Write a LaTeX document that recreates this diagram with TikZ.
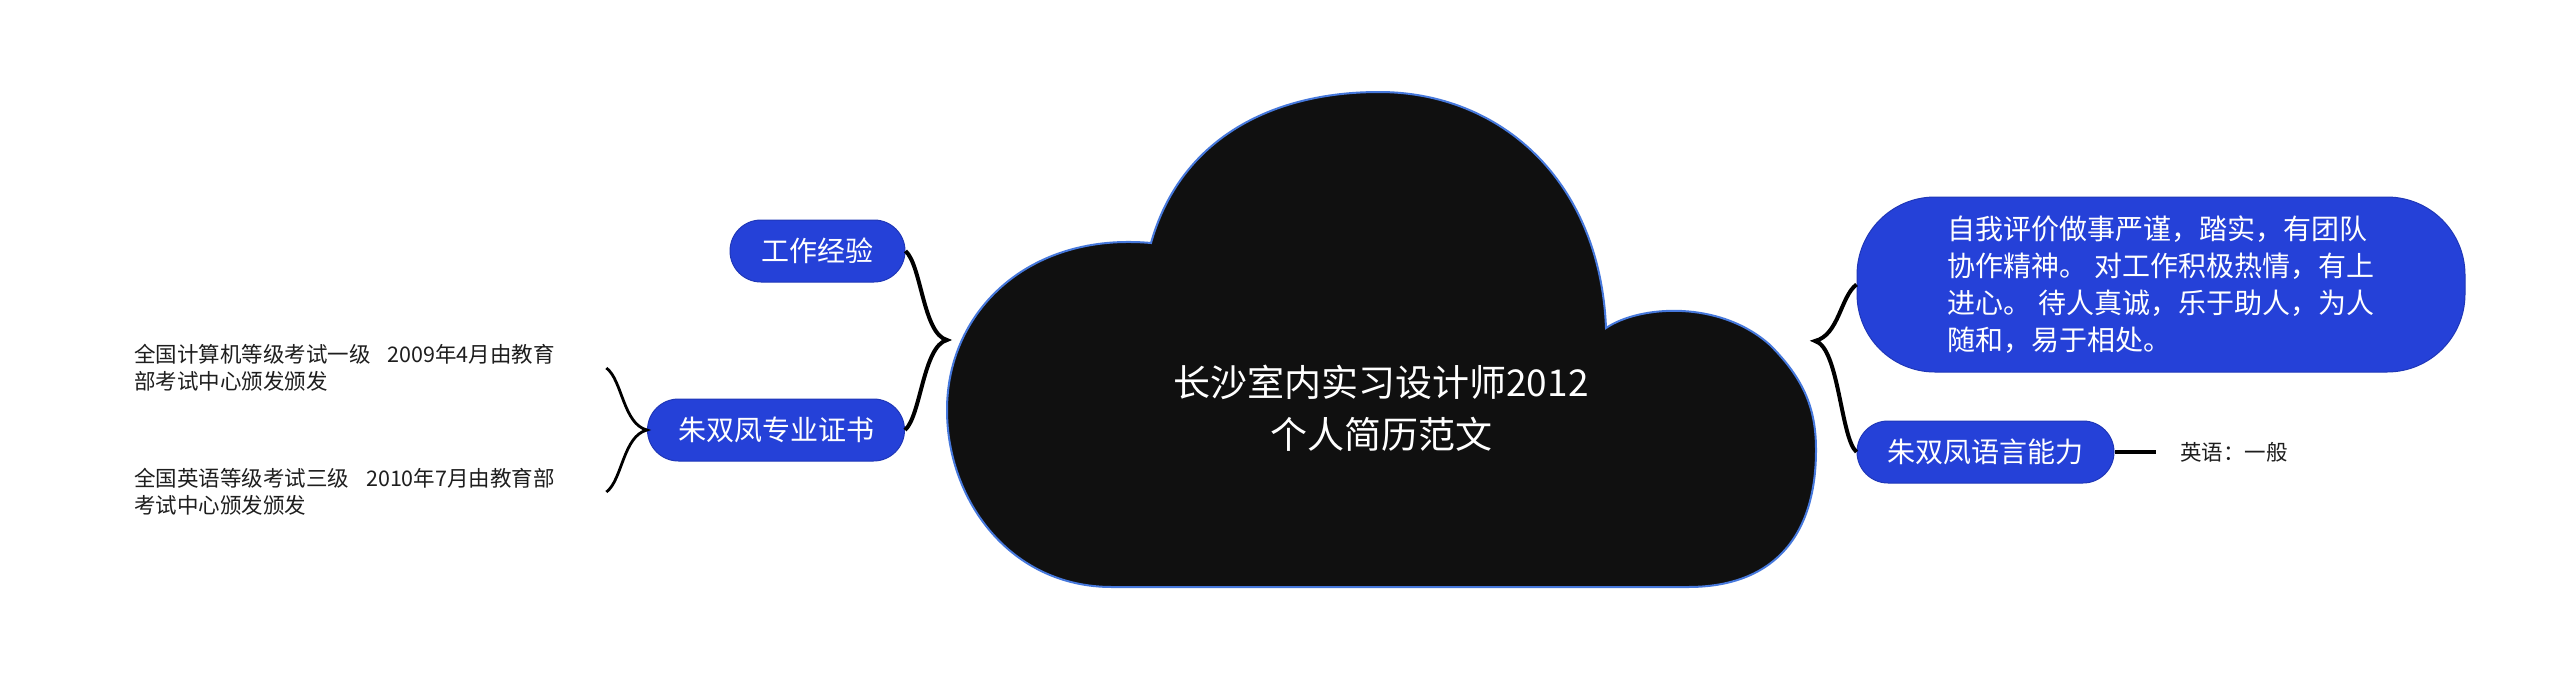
\documentclass[tikz,border=0pt]{standalone}
\usepackage{fontspec}
\newfontfamily\cjk{Noto Sans CJK SC}
\usetikzlibrary{calc}
\definecolor{nodeblue}{RGB}{37,65,216}
\definecolor{cloudfill}{RGB}{16,16,16}
\definecolor{cloudline}{RGB}{70,120,220}
\definecolor{leaftext}{RGB}{30,30,30}
\begin{document}
\begin{tikzpicture}[x=1pt,y=-1pt,
  topic/.style={draw=nodeblue!85!black, line width=1pt, fill=nodeblue, text=white,
    font=\cjk\fontsize{28}{37}\selectfont, rounded corners=31pt,
    minimum height=62pt, inner xsep=0pt, inner ysep=0pt, align=center},
  leaf/.style={font=\cjk\fontsize{21.5}{27}\selectfont, text=leaftext, align=left, inner ysep=0pt},
  bracel/.style={draw=black, line width=4pt},
  bracem/.style={draw=black, line width=2.8pt},
  cloudstyle/.style={fill=cloudfill, draw=cloudline, line width=2pt}
]
\fill[white] (0,0) rectangle (2560,681);
\useasboundingbox (0,0) rectangle (2560,681);

% cloud
\path[cloudstyle] (1112,587)
  .. controls (1010,587) and (947,500) .. (947,410)
  .. controls (947,310) and (1030,232) .. (1151,243)
  .. controls (1180,140) and (1270,92) .. (1379,92)
  .. controls (1500,92) and (1600,180) .. (1606,328)
  .. controls (1640,305) and (1720,300) .. (1770,345)
  .. controls (1805,380) and (1816,410) .. (1816,450)
  .. controls (1816,540) and (1770,587) .. (1688,587)
  -- cycle;

\node[font=\cjk\fontsize{37}{52}\selectfont, text=white, align=center] (root) at (1381,408)
  {长沙室内实习设计师2012\\个人简历范文};
\coordinate (lt) at (947,340);
\coordinate (rt) at (1815,341);

% left topics
\node[topic, minimum width=175pt] (work) at (817.5,251) {工作经验};
\node[topic, minimum width=257pt] (cert) at (776,430) {朱双凤专业证书};

% right topics
\node[topic, minimum width=608pt, minimum height=175pt, rounded corners=78pt, align=left] (self) at (2161,284.5)
  {自我评价做事严谨，踏实，有团队\\协作精神。 对工作积极热情，有上\\进心。 待人真诚，乐于助人，为人\\随和，易于相处。};
\node[topic, minimum width=257pt] (lang) at (1985.5,452) {朱双凤语言能力};

% leaves
\node[leaf, anchor=west, text width=462pt, inner xsep=10pt] (c1) at (124,368)
  {全国计算机等级考试一级\hspace{17pt}2009年4月由教育\\部考试中心颁发颁发};
\node[leaf, anchor=west, text width=462pt, inner xsep=10pt] (c2) at (124,492)
  {全国英语等级考试三级\hspace{17pt}2010年7月由教育部\\考试中心颁发颁发};
\node[leaf, anchor=west, inner xsep=24pt] (en) at (2156,452) {英语：一般};

% connectors
\draw[bracel] (work.east) .. controls ($(work.east)+(16,14)$) and ($(lt)+(-24,-6)$) .. (lt)
  .. controls ($(lt)+(-24,6)$) and ($(cert.east)+(16,-14)$) .. (cert.east);
\draw[bracel] (self.west) .. controls ($(self.west)+(-16,12)$) and ($(rt)+(24,-6)$) .. (rt)
  .. controls ($(rt)+(24,6)$) and ($(lang.west)+(-16,-14)$) .. (lang.west);
\draw[bracem] (c1.east) .. controls ($(c1.east)+(16,12)$) and ($(cert.west)+(-24,-6)$) .. (cert.west)
  .. controls ($(cert.west)+(-24,6)$) and ($(c2.east)+(16,-12)$) .. (c2.east);
\draw[bracel] (lang.east) -- (en.west);
\end{tikzpicture}
\end{document}
